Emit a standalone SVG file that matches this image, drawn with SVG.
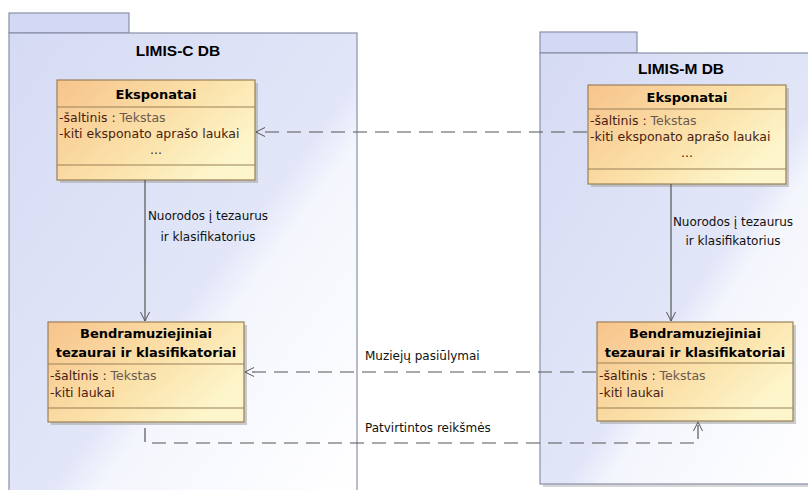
<svg xmlns="http://www.w3.org/2000/svg" width="808" height="490" viewBox="0 0 808 490">
<defs>
<linearGradient id="pkg" x1="0" y1="0" x2="1" y2="1">
<stop offset="0" stop-color="#d6dbf4"/>
<stop offset="0.55" stop-color="#e2e6f8"/>
<stop offset="0.62" stop-color="#f4f6fd"/>
<stop offset="1" stop-color="#ffffff"/>
</linearGradient>
<linearGradient id="cls" x1="0" y1="0" x2="1" y2="0.6">
<stop offset="0" stop-color="#f7c48c"/>
<stop offset="0.6" stop-color="#fbe2aa"/>
<stop offset="1" stop-color="#fdf6cc"/>
</linearGradient>
<marker id="open" markerWidth="12" markerHeight="12" refX="10" refY="5" orient="auto" markerUnits="userSpaceOnUse">
<path d="M1,0.5 L10,5 L1,9.5" fill="none" stroke="#555" stroke-width="1"/>
</marker>
</defs>
<style>
.pkg{fill:url(#pkg);stroke:#8a90a8;stroke-width:1.2}
.tab{fill:#d3d9f4;stroke:#8a90a8;stroke-width:1.2}
.ptitle{font-family:"Liberation Sans",Arial,sans-serif;font-size:15.5px;font-weight:bold;fill:#000;text-anchor:middle}
.box{fill:url(#cls);stroke:#9a8058;stroke-width:1.2}
.shadow{fill:#a8a8a8;opacity:0.6}
.sep{stroke:#9a8058;stroke-width:1.2}
.cname{font-family:"DejaVu Sans",Verdana,sans-serif;font-size:13px;font-weight:bold;fill:#000;text-anchor:middle}
.attr{font-family:"DejaVu Sans",Verdana,sans-serif;font-size:12.5px;fill:#4a1c10}
.typ{fill:#6a5a50}
.lbl{font-family:"DejaVu Sans",Verdana,sans-serif;font-size:12px;fill:#111}
.solid{stroke:#555;stroke-width:1.2;fill:none}
.dash{stroke:#555;stroke-width:1.2;fill:none;stroke-dasharray:14,8}
</style>
<rect width="808" height="490" fill="#ffffff"/>
<g id="pkg-limis-c">
<rect class="tab" x="9" y="13" width="120" height="20"/>
<rect class="pkg" x="9" y="33" width="348" height="465"/>
<text class="ptitle" x="178" y="56">LIMIS-C DB</text>
</g>
<g id="pkg-limis-m">
<rect x="543" y="56" width="280" height="431" fill="#b0b0b0" opacity="0.5"/>
<rect class="tab" x="540" y="32" width="97" height="21"/>
<rect class="pkg" x="540" y="53" width="280" height="431"/>
<text class="ptitle" x="681" y="74">LIMIS-M DB</text>
</g>
<g id="c-eksponatai">
<rect class="shadow" x="60" y="83" width="198" height="100"/>
<rect class="box" x="57" y="80" width="198" height="100"/>
<line class="sep" x1="57" y1="107" x2="255" y2="107"/>
<line class="sep" x1="57" y1="165" x2="255" y2="165"/>
<text class="cname" x="156" y="99">Eksponatai</text>
<text class="attr" x="59" y="122">-šaltinis : <tspan class="typ">Tekstas</tspan></text>
<text class="attr" x="59" y="138">-kiti eksponato aprašo laukai</text>
<text class="attr" x="156" y="154" text-anchor="middle">...</text>
</g>
<g id="m-eksponatai">
<rect class="shadow" x="591" y="88" width="198" height="99"/>
<rect class="box" x="588" y="85" width="198" height="99"/>
<line class="sep" x1="588" y1="109" x2="786" y2="109"/>
<line class="sep" x1="588" y1="169" x2="786" y2="169"/>
<text class="cname" x="687" y="102">Eksponatai</text>
<text class="attr" x="590" y="125">-šaltinis : <tspan class="typ">Tekstas</tspan></text>
<text class="attr" x="590" y="141">-kiti eksponato aprašo laukai</text>
<text class="attr" x="687" y="157" text-anchor="middle">...</text>
</g>
<g id="c-bendra">
<rect class="shadow" x="51" y="325" width="196" height="100"/>
<rect class="box" x="48" y="322" width="196" height="100"/>
<line class="sep" x1="48" y1="364" x2="244" y2="364"/>
<line class="sep" x1="48" y1="408" x2="244" y2="408"/>
<text class="cname" x="146" y="338">Bendramuziejiniai</text>
<text class="cname" x="146" y="357">tezaurai ir klasifikatoriai</text>
<text class="attr" x="50" y="380">-šaltinis : <tspan class="typ">Tekstas</tspan></text>
<text class="attr" x="50" y="397">-kiti laukai</text>
</g>
<g id="m-bendra">
<rect class="shadow" x="600" y="325" width="196" height="99"/>
<rect class="box" x="597" y="322" width="196" height="99"/>
<line class="sep" x1="597" y1="363" x2="793" y2="363"/>
<line class="sep" x1="597" y1="408" x2="793" y2="408"/>
<text class="cname" x="695" y="338">Bendramuziejiniai</text>
<text class="cname" x="695" y="357">tezaurai ir klasifikatoriai</text>
<text class="attr" x="599" y="380">-šaltinis : <tspan class="typ">Tekstas</tspan></text>
<text class="attr" x="599" y="397">-kiti laukai</text>
</g>
<g id="connectors">
<line class="solid" x1="145" y1="180" x2="145" y2="321" marker-end="url(#open)"/>
<text class="lbl" x="208" y="220" text-anchor="middle">Nuorodos į tezaurus</text>
<text class="lbl" x="208" y="241" text-anchor="middle">ir klasifikatorius</text>
<line class="solid" x1="671" y1="184" x2="671" y2="321" marker-end="url(#open)"/>
<text class="lbl" x="733" y="226" text-anchor="middle">Nuorodos į tezaurus</text>
<text class="lbl" x="733" y="245" text-anchor="middle">ir klasifikatorius</text>
<line class="dash" x1="587" y1="132" x2="256" y2="132" marker-end="url(#open)"/>
<line class="dash" x1="596" y1="372" x2="245" y2="372" marker-end="url(#open)"/>
<text class="lbl" x="365" y="360">Muziejų pasiūlymai</text>
<polyline class="dash" points="145,428 145,443 698,443 698,422" marker-end="url(#open)"/>
<text class="lbl" x="365" y="432">Patvirtintos reikšmės</text>
</g>
</svg>
